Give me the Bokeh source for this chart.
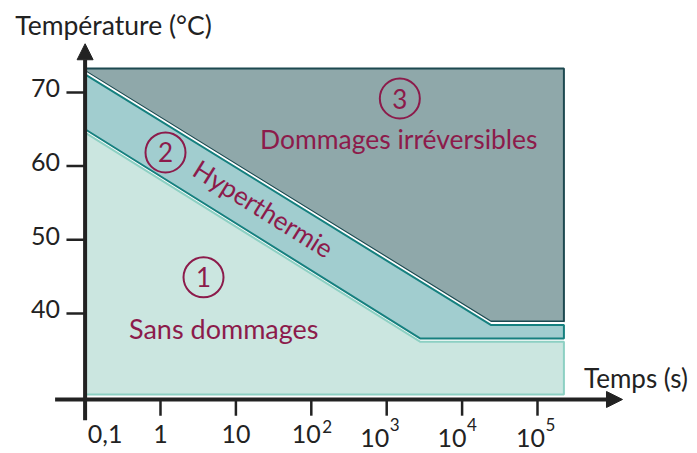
from bokeh.plotting import figure
from bokeh.models import Range1d, Arrow, NormalHead, ColumnDataSource
from bokeh.core.properties import value
from bokeh.embed import file_html
from bokeh.resources import INLINE

# ---------------- data ----------------
temp_ticks = [40, 50, 60, 70]
time_ticks = [0.1, 1, 10, 100, 1000, 10000, 100000]
time_tick_base = ["0,1", "1", "10", "10", "10", "10", "10"]
time_tick_exp = ["", "", "", "2", "3", "4", "5"]

# zone boundaries (time s, temperature °C)
t_first = 0.1
t_last = 224000
upper_x = [0.1, 24000, 224000]      # limit hyperthermie / dommages irréversibles
upper_y = [72.9, 38.9, 38.9]
lower_x = [0.1, 2800, 224000]       # limit sans dommages / hyperthermie
lower_y = [65.0, 36.6, 36.6]
zone_top = 73.25
zone_bottom = 29.0

labels = ["Sans dommages", "Hyperthermie", "Dommages irréversibles"]
label_x = [6.9, 23.3, 1445]
label_y = [37.96, 54.25, 63.74]
badge_text = ["1", "2", "3"]
badge_x = [3.72, 1.165, 1493]
badge_y = [44.9, 61.85, 69.17]

# axes extent
x_axis_from = 0.04
x_axis_to = 1.34e6
y_axis_from = 25.5
y_axis_to = 76.6
x_axis_at = 28.33

# ---------------- styles ----------------
FONT = "Lato"
MAROON = "#8c1b4b"
AX = "#222222"
C3_FILL, C3_LINE = "#8fa8aa", "#1d4950"
C2_FILL, C2_LINE = "#a1cdcf", "#16807f"
C1_FILL, C1_LINE = "#cbe6e0", "#8dd0c3"

W, H = 697, 453
p = figure(width=W, height=H, output_backend="svg", toolbar_location=None,
           x_axis_type="log", x_axis_location=None, y_axis_location=None,
           x_range=Range1d(10 ** -2.122, 10 ** 7.122), y_range=Range1d(21.0, 82.47),
           min_border=0, min_border_left=0, min_border_right=0,
           min_border_top=0, min_border_bottom=0)
p.outline_line_color = None
p.grid.visible = False
p.background_fill_color = "white"

d_up = 0.45   # visual gap between stacked borders (°C)

# zone 3 : dommages irréversibles
z3x = [t_first, t_last] + upper_x[::-1]
z3y = [zone_top, zone_top] + upper_y[::-1]
p.patch(z3x, z3y, fill_color=C3_FILL, line_color=C3_LINE, line_width=2)
# white separator
p.line(upper_x, [v - 0.22 for v in upper_y], line_color="white", line_width=2.5)

# zone 2 : hyperthermie
z2x = upper_x + lower_x[::-1]
z2y = [v - d_up for v in upper_y] + lower_y[::-1]
p.patch(z2x, z2y, fill_color=C2_FILL, line_color=C2_LINE, line_width=2)

# zone 1 : sans dommages
z1x = lower_x + [t_last, t_first]
z1y = [v - d_up for v in lower_y] + [zone_bottom, zone_bottom]
p.patch(z1x, z1y, fill_color=C1_FILL, line_color=C1_LINE, line_width=2)

# ---------------- axes ----------------
p.add_layout(Arrow(end=NormalHead(size=16, fill_color=AX, line_color=AX),
                   x_start=0.1, y_start=y_axis_from, x_end=0.1, y_end=y_axis_to,
                   line_color=AX, line_width=4))
p.add_layout(Arrow(end=NormalHead(size=16, fill_color=AX, line_color=AX),
                   x_start=x_axis_from, y_start=x_axis_at, x_end=x_axis_to, y_end=x_axis_at,
                   line_color=AX, line_width=4))

# ticks
xt = time_ticks[1:]
p.segment(x0=xt, y0=[x_axis_at] * len(xt), x1=xt, y1=[x_axis_at - 2.2] * len(xt),
          line_color=AX, line_width=2.5)
p.segment(x0=[0.0566] * len(temp_ticks), y0=temp_ticks, x1=[0.1] * len(temp_ticks), y1=temp_ticks,
          line_color=AX, line_width=2.5)

# y tick labels
p.text(x=[0.1] * len(temp_ticks), y=temp_ticks, text=[str(t) for t in temp_ticks],
       x_offset=-25, y_offset=-4, text_align="right", text_baseline="middle",
       text_font=value(FONT), text_font_size="25px", text_color=AX)

# x tick labels
base_dx = [20, 0, 0, -5, -12, -10, -7]
base_dy = [35, 35, 35, 35, 39, 39, 39]
exp_dx = [0, 0, 0, 11, 3, 5, 8]
exp_dy = [0, 0, 0, 27, 25, 25, 25]
src_b = ColumnDataSource(dict(x=time_ticks, y=[x_axis_at] * len(time_ticks), t=time_tick_base,
                              dx=base_dx, dy=base_dy))
p.text(x="x", y="y", text="t", x_offset="dx", y_offset="dy", source=src_b,
       text_align="center", text_baseline="middle",
       text_font=value(FONT), text_font_size="25px", text_color=AX)
src_e = ColumnDataSource(dict(x=time_ticks, y=[x_axis_at] * len(time_ticks), t=time_tick_exp,
                              dx=exp_dx, dy=exp_dy))
p.text(x="x", y="y", text="t", x_offset="dx", y_offset="dy", source=src_e,
       text_align="left", text_baseline="middle",
       text_font=value(FONT), text_font_size="17px", text_color=AX)

# axis titles
p.text(x=[0.01187], y=[79.08], text=["Température (°C)"], text_align="left", text_baseline="middle",
       text_font=value(FONT), text_font_size="26.5px", text_color=AX)
p.text(x=[4.14e5], y=[31.3], text=["Temps (s)"], text_align="left", text_baseline="middle",
       text_font=value(FONT), text_font_size="26px", text_color=AX)

# ---------------- zone annotations ----------------
p.scatter(x=badge_x, y=badge_y, marker="circle", size=40, fill_color=None,
          line_color=MAROON, line_width=2)
p.text(x=badge_x, y=badge_y, text=badge_text, text_align="center", text_baseline="middle",
       text_font=value(FONT), text_font_size="26px", text_color=MAROON)
p.text(x=[label_x[0]], y=[label_y[0]], text=[labels[0]], text_align="center", text_baseline="middle",
       text_font=value(FONT), text_font_size="27px", text_color=MAROON)
p.text(x=[label_x[1]], y=[label_y[1]], text=[labels[1]], text_align="center", text_baseline="middle",
       angle=-32, angle_units="deg",
       text_font=value(FONT), text_font_size="26px", text_color=MAROON)
p.text(x=[label_x[2]], y=[label_y[2]], text=[labels[2]], text_align="center", text_baseline="middle",
       text_font=value(FONT), text_font_size="26.5px", text_color=MAROON)

open("out.html", "w").write(file_html(p, INLINE))
